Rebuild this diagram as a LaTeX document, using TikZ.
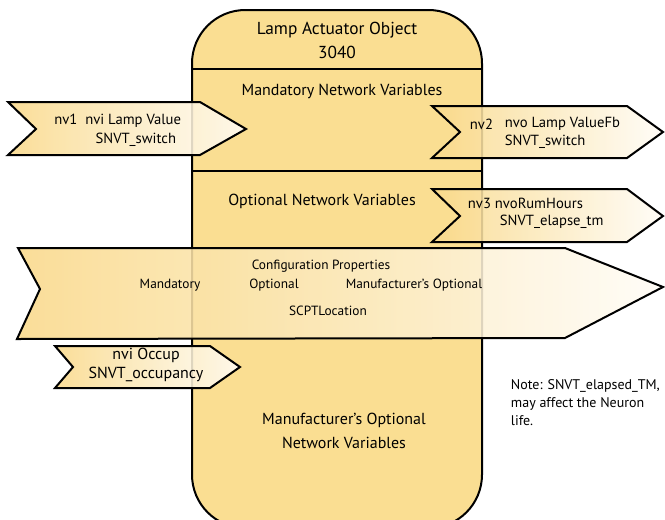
\documentclass[tikz,border=0pt]{standalone}
\usepackage{fontspec}
\setmainfont{PT Sans}
\definecolor{boxfill}{RGB}{250,222,146}
\definecolor{flagleft}{RGB}{249,217,138}
\definecolor{flagright}{RGB}{255,252,246}

\tikzset{every picture/.style={line width=0.75pt}}
\tikzset{
  varflag/.style={line width=1.5, draw=black, left color=flagleft, right color=flagright, fill opacity=0.88},
  boxtext/.style={font=\fontsize{12}{18}\selectfont, align=center},
  flagtext/.style={font=\fontsize{11}{14}\selectfont},
  cfgtext/.style={font=\fontsize{10}{12}\selectfont},
}

\begin{document}
\begin{tikzpicture}[x=0.75pt,y=0.75pt,yscale=-1,xscale=1]
\useasboundingbox (0,0) rectangle (665,519); %set diagram size to 665 x 519

%Shape: Rounded Rect [id:lampobject]
\draw [line width=1.5, fill=boxfill, rounded corners=40] (192,10) rectangle (482,528) ;
%Straight Lines [id:divtitle]
\draw [line width=1.5] (192,69) -- (482,69) ;
%Straight Lines [id:divmand]
\draw [line width=1.5] (192,171) -- (482,171) ;

%Shape: Flag [id:nv1flag]
\draw [varflag] (8,102) -- (200,102) -- (246,129) -- (200,155) -- (8,155) -- (36,129) -- cycle ;
%Shape: Flag [id:nv2flag]
\draw [varflag] (432,106) -- (627,106) -- (663,132) -- (627,158) -- (432,158) -- (460,132) -- cycle ;
%Shape: Flag [id:nv3flag]
\draw [varflag] (432,189) -- (627,189) -- (663,216) -- (627,242) -- (432,242) -- (460,216) -- cycle ;
%Shape: Flag [id:cfgflag]
\draw [varflag] (18,248) -- (565,248) -- (663,287) -- (565,338) -- (17,339) -- (40,289) -- cycle ;
%Shape: Flag [id:occflag]
\draw [varflag] (55,346) -- (210,346) -- (240,367) -- (210,388) -- (55,388) -- (73,367) -- cycle ;

% Text Node
\draw (337,40) node (title) [boxtext, font=\fontsize{13}{18}\selectfont] {Lamp Actuator Object\\3040};
% Text Node
\draw (342,91) node (mandnv) [boxtext] {Mandatory Network Variables};
% Text Node
\draw (322,201) node (optnv) [boxtext] {Optional Network Variables};
% Text Node
\draw (344,431) node (manufnv) [boxtext] {Manufacturer's Optional\\Network Variables};

% Text Node
\draw (186,121) node (nvone) [flagtext, anchor=east] {nv1\ \ nvi Lamp Value};
% Text Node
\draw (181,140) node (nvonetype) [flagtext, anchor=east] {SNVT\_switch};
% Text Node
\draw (465,124) node (nvtwo) [flagtext, anchor=west] {nv2};
% Text Node
\draw (500,133) node (nvtwoname) [flagtext, anchor=west, align=left] {nvo Lamp ValueFb\\SNVT\_switch};
% Text Node
\draw (463,203) node (nvthree) [flagtext, anchor=west] {nv3 nvoRumHours};
% Text Node
\draw (495,222) node (nvthreetype) [flagtext, anchor=west] {SNVT\_elapse\_tm};
% Text Node
\draw (146,365) node (occup) [flagtext, font=\fontsize{12}{14}\selectfont, align=center] {nvi Occup\\SNVT\_occupancy};

% Text Node
\draw (321,266) node (cfgprop) [cfgtext] {Configuration Properties};
% Text Node
\draw (170,285) node (cfgmand) [cfgtext] {Mandatory};
% Text Node
\draw (274,285) node (cfgopt) [cfgtext] {Optional};
% Text Node
\draw (414,285) node (cfgmanuf) [cfgtext] {Manufacturer's Optional};
% Text Node
\draw (328,311) node (scpt) [cfgtext] {SCPTLocation};

% Text Node
\draw (506,403) node (note) [anchor=west, align=left, font=\fontsize{10.5}{13.5}\selectfont] {Note: SNVT\_elapsed\_TM,\\may affect the Neuron\\life.};

\end{tikzpicture}
\end{document}
